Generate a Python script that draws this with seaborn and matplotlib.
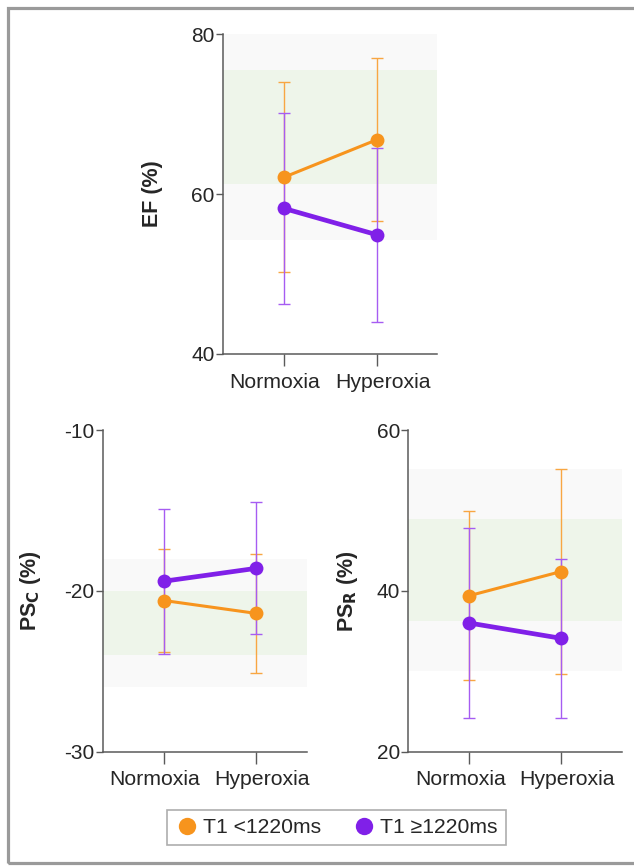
import matplotlib
matplotlib.use("Agg")
import matplotlib.pyplot as plt
import matplotlib.transforms as mtransforms
import seaborn as sns
import pandas as pd
from matplotlib.patches import Rectangle
from matplotlib.lines import Line2D

sns.set_style("white")
plt.rcParams['font.family'] = ['Liberation Sans', 'DejaVu Sans']

conditions = ["Normoxia", "Hyperoxia"]
groups = ["T1 <1220ms", "T1 \u22651220ms"]

ef_low = [62.1, 66.8]
ef_low_sd = [11.9, 10.2]
ef_high = [58.2, 54.9]
ef_high_sd = [11.9, 10.9]
ef_gray = (54.3, 80.0)
ef_green = (61.3, 75.5)

psc_low = [-20.6, -21.4]
psc_low_sd = [3.2, 3.7]
psc_high = [-19.4, -18.6]
psc_high_sd = [4.5, 4.1]
psc_gray = (-26.0, -18.0)
psc_green = (-24.0, -20.0)

psr_low = [39.4, 42.4]
psr_low_sd = [10.5, 12.7]
psr_high = [36.0, 34.1]
psr_high_sd = [11.8, 9.9]
psr_gray = (30.0, 55.2)
psr_green = (36.3, 48.9)

ORANGE = "#F7941D"
PURPLE = "#8020E8"
ORANGE_ERR = "#F8A642"
PURPLE_ERR = "#A65CF2"
SPINE = "#5a5a5a"

fig = plt.figure(figsize=(6.34, 8.67), dpi=100)

def panel(rect, xlim, ylim, yticks, low, low_sd, high, high_sd, gray, green, ylabel, label_x):
    ax = fig.add_axes(rect)
    ax.axhspan(gray[0], gray[1], color="#f9f9f9", zorder=0, lw=0)
    ax.axhspan(green[0], green[1], color="#eef5ea", zorder=0.5, lw=0)
    for vals, sds, ecol in [(low, low_sd, ORANGE_ERR), (high, high_sd, PURPLE_ERR)]:
        ax.errorbar(conditions, vals, yerr=sds, fmt="none", ecolor=ecol,
                    elinewidth=1.0, capsize=4, capthick=1.0, zorder=2)
    df = pd.DataFrame({
        "condition": conditions * 2,
        "value": list(low) + list(high),
        "group": [groups[0]] * 2 + [groups[1]] * 2,
    })
    for g, col, lw in [(groups[0], ORANGE, 2.2), (groups[1], PURPLE, 3.4)]:
        sub = df[df.group == g]
        sns.lineplot(data=sub, x="condition", y="value", color=col, lw=lw,
                     marker="o", markersize=10, markeredgewidth=0,
                     ax=ax, zorder=3, legend=False, sort=False)
    ax.set_xlim(*xlim)
    ax.set_ylim(*ylim)
    ax.set_yticks(yticks)
    ax.set_yticklabels([str(t) for t in yticks])
    ax.set_xlabel("")
    ax.set_ylabel(ylabel, fontsize=15.5, fontweight="bold")
    ax.yaxis.set_label_coords(label_x, 0.5)
    for s in ["top", "right"]:
        ax.spines[s].set_visible(False)
    for s in ["left", "bottom"]:
        ax.spines[s].set_color(SPINE)
        ax.spines[s].set_linewidth(1.1)
    ax.tick_params(axis="y", which="major", direction="out", length=5, width=1.0,
                   color=SPINE, labelsize=15, pad=1, left=True)
    ax.tick_params(axis="x", which="major", direction="out", length=8.5, width=1.0,
                   color=SPINE, labelsize=15.3, pad=5, bottom=True)
    shifts = [-9, 6]
    for lab, dx in zip(ax.get_xticklabels(), shifts):
        lab.set_transform(lab.get_transform() +
                          mtransforms.ScaledTranslation(dx / 100, 0, fig.dpi_scale_trans))
    ax.set_facecolor("none")
    return ax

panel([0.3513, 0.5917, 0.338, 0.369], (-0.659, 1.645), (40, 80), [40, 60, 80],
      ef_low, ef_low_sd, ef_high, ef_high_sd, ef_gray, ef_green, "EF (%)", -0.279)
panel([0.162, 0.133, 0.3218, 0.371], (-0.666, 1.551), (-30, -10), [-30, -20, -10],
      psc_low, psc_low_sd, psc_high, psc_high_sd, psc_gray, psc_green,
      r"PS$_\mathbf{C}$ (%)", -0.293)
panel([0.644, 0.133, 0.3366, 0.371], (-0.665, 1.662), (20, 60), [20, 40, 60],
      psr_low, psr_low_sd, psr_high, psr_high_sd, psr_gray, psr_green,
      r"PS$_\mathbf{R}$ (%)", -0.226)

handles = [Line2D([], [], marker="o", ls="none", color=ORANGE, markersize=12.5, markeredgewidth=0),
           Line2D([], [], marker="o", ls="none", color=PURPLE, markersize=12.5, markeredgewidth=0)]
leg = fig.legend(handles, groups, loc="center", bbox_to_anchor=(0.531, 0.0456), ncol=2,
                 fontsize=15.2, frameon=True, fancybox=False, edgecolor="#999999",
                 handletextpad=0.2, columnspacing=1.5, borderpad=0.4, handlelength=1.1)
leg.get_frame().set_linewidth(1.2)

fig.patches.append(Rectangle((7.5 / 634, 4.5 / 867), 1.2, 1 - 12 / 867,
                             transform=fig.transFigure, fill=False,
                             edgecolor="#9a9a9a", lw=2.3, zorder=10))

fig.savefig("out.png", dpi=100)
